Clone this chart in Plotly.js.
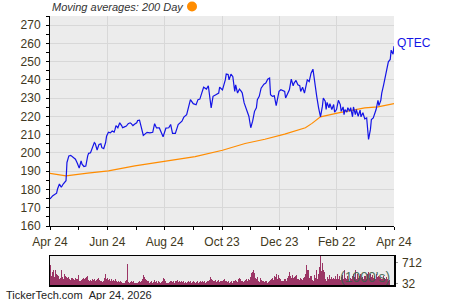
<!DOCTYPE html>
<html>
<head>
<meta charset="utf-8">
<script src="https://cdn.plot.ly/plotly-3.0.1.min.js"></script>
<style>
html,body{margin:0;padding:0;background:#fff;}
#chart{width:450px;height:300px;}
</style>
</head>
<body>
<div id="chart"></div>
<script>
// ---- data ----
const ticker = "QTEC";
const xTickLabels = ["Apr 24","Jun 24","Aug 24","Oct 23","Dec 23","Feb 22","Apr 24"];
const spanDays = 365;

const priceDay = [0,3,7,8,10,12,14,16,17,18,20,22,24,27,29,31,33,34,36,38,40,41,43,45,47,48,50,52,54,55,57,59,60,62,64,66,68,69,70,72,74,76,77,79,81,83,85,86,88,90,92,93,95,
99,103,106,109,111,113,116,119,120,123,126,128,130,133,136,140,142,145,147,149,152,155,157,159,161,163,166,168,171,173,176,179,180,183,186,
187,189,190,192,194,196,197,199,201,203,204,206,208,210,211,213,215,217,219,220,222,224,226,227,229,231,233,234,236,238,240,242,243,245,247,249,250,252,254,256,258,259,261,263,265,266,268,270,272,273,275,
277,279,280,281,283,285,287,289,290,292,293,294,296,297,299,301,302,304,306,308,309,311,312,313,315,316,318,319,321,322,324,325,327,329,330,332,334,336,337,338,340,341,343,345,346,348,349,351,352,354,356,358,359,361,362,364,365];

const price = [174.8,176.6,178,180.3,183,181.2,183,184.2,184.8,194.8,198.4,198.7,198,196.6,194.4,191.7,195.7,193.9,192.6,192.8,198.4,199.8,200.1,202.4,205.7,205.1,201.6,204.7,205,202.9,202.4,205.7,209.2,211.4,211,212,211.4,212.9,215,213.8,216.5,215,213.8,214.3,214.7,216,216.5,216.2,215,215.8,216.5,217.8,218,
209.6,211.3,211,211.3,216,213.7,213.7,209.3,208.9,213.6,213.8,215.6,210.7,210.7,215.6,217.4,219.6,221,225.5,229.2,227,226.4,229.2,229.5,232.8,236,235,236.8,224.7,231,231.9,232.8,236,234.5,240,
243.2,243,240,243.2,241.8,233.7,237.3,232.8,235,233.7,232.8,227.4,224.7,222,220.1,213.8,217.4,222.8,224.7,229.2,231,235.5,236.8,237.7,238.3,240.4,241,231.9,231,231.3,225.9,231.9,233.7,234.6,234.3,233.7,230.1,232.4,234.6,240.4,236.8,238.3,239.7,237.3,236.8,233.7,236,232.8,239.1,240,239.1,
243.7,245.9,241.8,237.3,231,224.7,219.8,225.5,230.1,228.3,223.8,227.7,224.7,227,223.8,226.5,222.3,223.8,228.8,226.5,222.8,225.2,221,223.8,222.3,224.8,222.8,224.8,219.8,225.2,221,223.8,220.1,223.5,219.8,222,218.7,219.2,214.7,207.4,212.9,218.3,219.2,222,223.8,228.8,225.9,228.8,232.8,237.3,242.7,247.6,249.9,251.2,256.3,254.1,258.5];

const maDay = [0,17,40,62,90,122,154,183,207,228,249,271,278,287,306,334,348,365];
const ma200 = [188.8,187.5,189,190.2,192.9,195.3,198,201.5,205.2,207.5,210.3,213.8,216.2,219.8,222,224.7,225.2,227];

// volume in thousands, one bar per session
const volume = [624,269,409,463,247,463,334,301,269,194,226,484,247,194,355,269,247,226,247,194,161,215,226,194,161,226,183,194,323,140,118,161,183,215,194,226,247,269,161,140,161,140,183,161,194,140,161,183,226,161,140,118,86,118,226,334,194,226,161,183,140,194,118,161,140,194,118,97,140,86,118,97,54,75,54,140,161,678,86,54,97,140,97,118,75,54,75,97,118,97,140,194,301,247,194,161,140,118,75,97,118,75,97,161,97,118,75,118,97,75,97,140,226,204,118,54,75,54,97,118,118,97,118,75,140,118,161,97,118,97,118,97,118,75,97,75,97,140,97,118,75,97,118,97,75,97,118,75,97,118,97,140,97,118,75,97,140,118,161,247,183,161,140,118,161,97,140,161,97,140,118,161,183,
118,140,97,118,75,97,118,75,140,118,161,140,97,183,226,194,140,118,97,140,161,183,140,204,161,247,377,398,484,377,226,183,247,140,97,226,161,140,118,97,118,140,75,97,140,161,204,226,161,269,247,334,204,301,226,183,140,118,140,204,183,140,226,269,420,291,226,312,226,247,291,312,204,183,161,226,204,161,226,247,355,635,484,226,269,291,161,
140,312,226,463,183,355,570,915,441,699,484,398,204,140,247,183,312,183,247,204,226,183,291,204,334,183,291,161,247,312,204,484,226,183,291,204,140,226,183,269,355,247,463,204,334,226,291,355,226,247,183,291,269,204,355,398,226,334,247,312,226,269,204,334,247,291,247,226,204,183,269,226,204,247,183,140,161,11,11,11,11];
const volTicks = [32, 712];

// ---- chart ----
const volX = volume.map((_, i) => i * spanDays / (volume.length - 1));
const majorTicks = xTickLabels.map((_, i) => i * spanDays / (xTickLabels.length - 1));
const minorTicks = majorTicks.slice(0, -1).map((v, i) => (v + majorTicks[i + 1]) / 2);
const txtColor = "#3f3820";
const font = "Liberation Sans, Arial, sans-serif";

const traces = [
  {x: maDay, y: ma200, type: "scatter", mode: "lines", line: {color: "#ff8c00", width: 1.2}, xaxis: "x", yaxis: "y", hoverinfo: "skip"},
  {x: priceDay, y: price, type: "scatter", mode: "lines", line: {color: "#1414e6", width: 1.2}, xaxis: "x", yaxis: "y"},
  {x: volX, y: volume, type: "bar", marker: {color: "#9b3565", line: {width: 0}}, xaxis: "x2", yaxis: "y2"}
];

const layout = {
  width: 450, height: 300,
  margin: {l: 50, r: 56, t: 16, b: 15, pad: 0},
  paper_bgcolor: "#ffffff",
  plot_bgcolor: "#ececec",
  showlegend: false,
  bargap: 0,
  font: {family: font, size: 12, color: txtColor},
  xaxis: {
    domain: [0, 1], anchor: "y", range: [0, spanDays],
    tickvals: majorTicks, ticktext: xTickLabels,
    ticks: "outside", ticklen: 3, tickcolor: "#000", ticklabelstandoff: 2,
    showline: true, linecolor: "#000", linewidth: 1,
    showgrid: true, gridcolor: "#d8d8d8", gridwidth: 1,
    zeroline: false, fixedrange: true,
    tickfont: {family: font, size: 12, color: txtColor},
    minor: {tickvals: minorTicks, ticks: "outside", ticklen: 3, tickcolor: "#000", showgrid: false}
  },
  yaxis: {
    domain: [0.2193, 1], anchor: "x", range: [160, 275],
    tick0: 160, dtick: 10,
    ticks: "outside", ticklen: 3, tickcolor: "#000", ticklabelstandoff: 3,
    showline: true, linecolor: "#000", linewidth: 1,
    showgrid: true, gridcolor: "#d8d8d8", gridwidth: 1,
    zeroline: false, fixedrange: true,
    tickfont: {family: font, size: 12, color: txtColor},
    minor: {dtick: 5, ticks: "outside", ticklen: 3, tickcolor: "#000", showgrid: false}
  },
  xaxis2: {
    domain: [0, 1], anchor: "y2", range: [0, spanDays],
    showticklabels: false, ticks: "",
    showline: true, mirror: true, linecolor: "#000", linewidth: 1.5,
    showgrid: false, zeroline: false, fixedrange: true
  },
  yaxis2: {
    domain: [0, 0.1078], anchor: "x2", range: [0, 915], side: "right",
    tickvals: volTicks, ticktext: volTicks.map(String),
    ticks: "outside", ticklen: 2, tickcolor: "#999", ticklabelstandoff: 2,
    showline: true, mirror: true, linecolor: "#000", linewidth: 1.5,
    showgrid: false, zeroline: false, fixedrange: true,
    tickfont: {family: font, size: 12, color: txtColor}
  },
  annotations: [
    {xref: "paper", yref: "paper", x: 0, y: 1, xanchor: "left", yanchor: "bottom", yshift: 1,
     text: "<i>Moving averages: 200 Day</i>", showarrow: false,
     font: {family: font, size: 11, color: "#333"}},
    {xref: "x", yref: "y", x: priceDay[priceDay.length - 1], y: price[price.length - 1],
     xanchor: "left", yanchor: "middle", xshift: 1, yshift: 3,
     text: ticker, showarrow: false, font: {family: font, size: 12, color: "#1414e6"}},
    {xref: "x2", yref: "paper", x: spanDays, y: 0, xanchor: "right", yanchor: "bottom", xshift: -2, yshift: -2,
     text: "(1000's)", showarrow: false, font: {family: font, size: 14, color: "rgba(60,95,75,0.9)"}},
    {xref: "paper", yref: "paper", x: -50/344, y: 0, xanchor: "left", yanchor: "top", xshift: 4, yshift: -2,
     text: "TickerTech.com&nbsp;&nbsp;Apr 24, 2026", showarrow: false,
     font: {family: font, size: 11, color: "#222"}}
  ],
  shapes: [
    {type: "circle", xref: "paper", yref: "paper", x0: 137/344, x1: 147/344, y0: 1 + 4.5/269, y1: 1 + 14.5/269,
     fillcolor: "#ff8c00", line: {width: 0}}
  ]
};

Plotly.newPlot("chart", traces, layout, {displayModeBar: false, staticPlot: true});
</script>
</body>
</html>
